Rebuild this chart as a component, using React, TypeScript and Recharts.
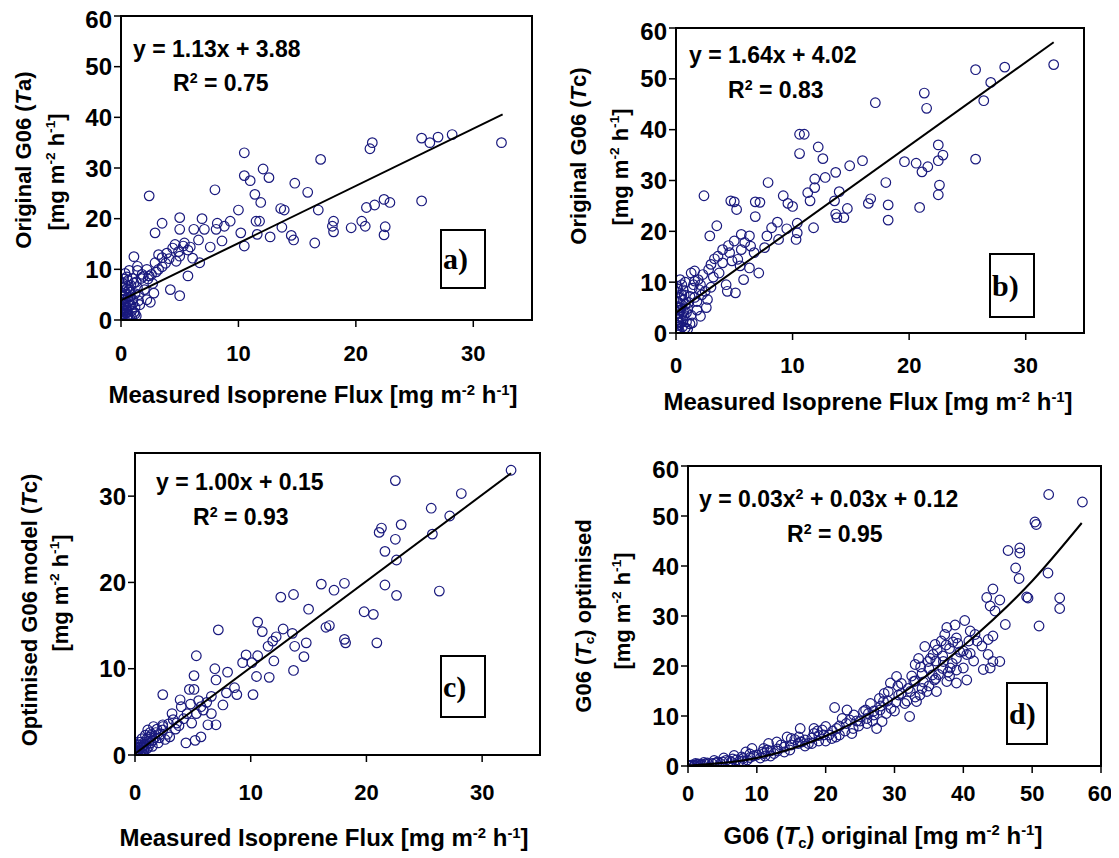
import React from 'react';
import { ScatterChart, Scatter, XAxis, YAxis } from 'recharts';

// panel a) measured flux vs original G06 (Ta)
const pointsA: [number, number][] = [
  [32.4, 35], [25.6, 35.9], [26.3, 35], [27, 36.1], [28.2, 36.6], [21.4, 35], [21.2, 33.8],
  [10.5, 33], [17, 31.7], [12.1, 29.8], [12.6, 28.1], [10.5, 28.5], [11, 27.5], [2.4, 24.5],
  [8, 25.7], [14.8, 27], [15.9, 25.2], [11.4, 24.8], [11.9, 23.2], [25.6, 23.5], [22.4, 23.8],
  [22.9, 23.2], [21.6, 22.7], [20.9, 22.2], [13.6, 22], [13.9, 21.7], [16.8, 21.7], [18.1, 19.5],
  [18, 18.5], [18.1, 17.4], [19.6, 18.2], [20.5, 19.5], [20.8, 18.5], [22.5, 18.4], [22.4, 16.8],
  [16.5, 15.2], [14.7, 15.8], [14.5, 16.7], [13.7, 18.3], [12.7, 16.4], [11.6, 16.9], [11.8, 19.5],
  [11.5, 19.5], [10, 21.7], [10.5, 14.6], [10.2, 17.2], [9.3, 19.5], [8.8, 18.5], [8.2, 19.1],
  [8.1, 17.9], [6.9, 20], [7.1, 17.9], [6.2, 17.9], [5, 20.2], [5, 17.9], [3.5, 19.1], [2.9, 17.2],
  [8.6, 15.6], [7.6, 14.4], [6.6, 15.8], [4.6, 14.9], [5.3, 14.6], [5.7, 13.8], [3.9, 13.2],
  [3.5, 12.3], [5, 12.6], [6.7, 11.3], [2.9, 11.3], [1.1, 12.5], [1.4, 10.6], [1.9, 8.6], [2.4, 8.7],
  [5.7, 8.7], [4.2, 6], [5, 4.8], [2.8, 5.3], [0.2, 8.1], [1.1, 7.3], [2.2, 4], [4.4, 14.2],
  [4.9, 13.5], [5.4, 15.2], [4.1, 12.1], [4.7, 11.6], [3.2, 12.9], [6.1, 12.2], [5.9, 14.4],
  [0, 0], [0.1, 0.5], [0.2, 1], [0.1, 2], [0.3, 3], [0.2, 4], [0.4, 5], [0.5, 2], [0.6, 1],
  [0.3, 0.2], [0.8, 3], [1, 4], [0.7, 6], [0.2, 6.5], [1.2, 2.5], [1.5, 5], [0.9, 0.5], [0.05, 3.5],
  [0.4, 7], [1.3, 7.5], [2, 6], [1.6, 3], [0.6, 4.5], [2.5, 3.5], [1.8, 9], [2.2, 10], [3, 9.5],
  [3.5, 10.5], [0.5, 8.5], [1.1, 1.5], [0.3, 2.5], [0.8, 5.5], [1.4, 9.8], [2.7, 7.2],
  [0.05, 0.3], [0.1, 1.2], [0.15, 2.2], [0.25, 3.2], [0.35, 4.2], [0.1, 5.2], [0.3, 5.8], [0.5, 6.2],
  [0.15, 7.2], [0.6, 7.8], [0.4, 3.8], [0.7, 2.8], [0.9, 1.8], [1, 3.2], [0.55, 0.8], [0.25, 1.8],
  [0.8, 4.6], [1.2, 5.2], [1.4, 6.4], [1, 8.2], [0.35, 9.2], [0.7, 9.8], [1.5, 3.8], [1.2, 1.2],
  [0.45, 2.6], [0.65, 3.6], [0.15, 4.6], [0.85, 6.8], [1.7, 8.2], [2.3, 8.1], [2.6, 9], [3.2, 10],
  [3.8, 11.2], [0.05, 1.6], [0.2, 0.4], [0.45, 1.4], [0.75, 0.3], [1.3, 0.8],
];
const fitA: [number, number][] = [[0, 3.88], [32.5, 40.6]];

// panel b) measured flux vs original G06 (Tc)
const pointsB: [number, number][] = [
  [32.4, 52.8], [28.2, 52.3], [25.7, 51.8], [27, 49.3], [26.4, 45.7], [21.3, 47.2], [21.5, 44.2],
  [17.1, 45.3], [10.6, 39.1], [11, 39.1], [12.2, 36.6], [12.6, 34.3], [10.6, 35.3], [22.5, 37],
  [22.9, 35], [22.5, 33.9], [25.7, 34.2], [16, 33.9], [14.9, 32.9], [19.6, 33.7], [20.6, 33.4],
  [21.6, 32.7], [21.1, 31.7], [13.7, 31.6], [12.8, 30.6], [11.9, 30.3], [11.9, 28.6], [11.3, 27.6],
  [11.5, 26], [14, 27.8], [13.6, 26], [18, 29.6], [22.6, 29.1], [22.5, 27.2], [16.7, 26.4],
  [16.5, 25.5], [18.2, 25.2], [18.2, 22.2], [20.9, 24.7], [14.7, 24.5], [13.7, 23.4], [14.4, 22.7],
  [13.8, 22.7], [7.9, 29.6], [9.2, 27], [9.6, 25.5], [10, 24.9], [6.8, 25.8], [7.2, 25.7],
  [6.8, 22.9], [4.7, 26], [5, 25.8], [5.2, 24.3], [2.4, 27], [3.5, 21.1], [2.9, 19.1], [8.2, 20.7],
  [8.7, 21.8], [9.5, 20.5], [10.4, 21.6], [10.4, 19.7], [10.3, 18.4], [11.8, 20.7], [7.8, 19.1],
  [8.8, 18.4], [7.6, 16.8], [6.3, 19.1], [5.6, 19.4], [5, 18.1], [4, 16.4], [3.6, 15.1], [4.6, 15.8],
  [5.6, 16.4], [6.4, 17.1], [6.7, 15.8], [5.3, 14.5], [4, 13.8], [3, 13.5], [3.7, 11.8], [6.3, 12.8],
  [7.1, 11.8], [5.8, 10.5], [4.3, 9.5], [5.1, 7.9], [4.4, 8.2], [2.3, 11.5], [1.3, 11.8], [1.6, 10.2],
  [0.1, 9.2], [2.1, 9.5], [2.7, 6.6], [2.1, 3.3], [1.4, 2], [4.5, 17.2], [5.9, 17.8], [4.8, 14.2],
  [3.3, 14.6], [5.5, 13.2],
  [0, 0], [0.1, 0.8], [0.2, 1.5], [0.1, 3], [0.3, 4.5], [0.2, 6], [0.5, 5.5], [0.6, 2.5], [0.8, 1],
  [0.3, 0.3], [0.9, 4], [1.1, 6], [0.7, 7.5], [0.2, 8], [1.3, 3.5], [1.6, 7], [1, 0.8], [0.05, 5],
  [0.5, 9.5], [1.4, 8.8], [2.2, 7.5], [1.8, 4.5], [0.6, 6.5], [2.6, 5], [1.9, 10.5], [0.4, 2.2],
  [0.05, 0.4], [0.1, 1.5], [0.15, 2.6], [0.25, 3.8], [0.35, 5], [0.1, 6.2], [0.3, 7], [0.5, 7.5],
  [0.15, 8.6], [0.6, 8.5], [0.4, 4.5], [0.7, 3.5], [0.9, 2.2], [1, 4.8], [0.55, 1.2], [0.25, 2.2],
  [0.8, 5.6], [1.2, 7.2], [1.5, 9.5], [0.8, 10], [0.35, 10.5], [1.2, 1.8], [0.45, 3.1], [0.65, 4.2],
  [1.8, 6.2], [2, 8.5], [2.5, 8.2], [3, 9], [3.2, 11], [2.8, 12.5], [1.6, 12.2], [0.2, 0.2],
];
const fitB: [number, number][] = [[0, 4.02], [32.4, 57.2]];

// panel c) measured flux vs optimised G06 (Tc)
const pointsC: [number, number][] = [
  [32.5, 33], [22.5, 31.8], [28.2, 30.3], [25.6, 28.6], [27.2, 27.7], [25.7, 25.6], [23, 26.7],
  [21.3, 26.3], [21.1, 25.8], [22.5, 25], [21.6, 23.6], [22.6, 22.6], [26.3, 19], [16.1, 19.8],
  [18.1, 19.9], [17.2, 19.1], [21.6, 19.7], [22.6, 18.5], [12.6, 18.3], [13.7, 18.6], [15, 16.9],
  [19.8, 16.6], [20.6, 16.3], [10.6, 15.4], [11, 14.3], [12.8, 14.6], [16.5, 14.8], [16.8, 15],
  [7.2, 14.5], [11.9, 13.2], [12.2, 13.7], [13.6, 14.1], [13.8, 12.6], [14.8, 13], [14.6, 11.4],
  [18.1, 13.4], [18.2, 13], [20.9, 13], [5.3, 11.5], [9.6, 11.6], [10.6, 11.5], [11.5, 12.6],
  [12, 10.9], [9.3, 10.7], [10.1, 10.7], [13.7, 9.8], [11.6, 9], [10.5, 9.1], [6.9, 10], [8, 9.6],
  [5.1, 9.2], [7, 8.7], [4.7, 7.6], [5.1, 7.6], [2.4, 7], [8.6, 7.8], [7.9, 7.2], [8.8, 7],
  [10.2, 7], [6.6, 6.8], [5.7, 5.6], [7.6, 5.8], [3.9, 6.4], [4, 5.6], [3.2, 4.8], [4.5, 4.8],
  [5.3, 4.8], [6.6, 4.8], [7, 3.5], [6.3, 3.5], [4.9, 3.7], [3.6, 3.7], [2.4, 3.5], [1.6, 3.3],
  [5.7, 2.1], [5.2, 1.7], [4.4, 1.4], [3, 2.1], [2.4, 2.9], [4.2, 4.2], [5.9, 5.2], [6.2, 6.1],
  [3.5, 3], [2.8, 2.4], [4.8, 5.9], [5.5, 6.3],
  [0, 0], [0.1, 0.2], [0.2, 0.5], [0.4, 0.3], [0.3, 0.9], [0.6, 0.6], [0.8, 1.2], [0.5, 1.5],
  [1, 0.7], [1.2, 1.6], [0.2, 1.2], [1.5, 1], [1.7, 2], [0.9, 2.3], [1.3, 2.6], [2, 1.4],
  [2.2, 2.4], [0.7, 0.1], [1.9, 3], [2.6, 1.8],
  [0.05, 0.1], [0.15, 0.3], [0.25, 0.1], [0.35, 0.6], [0.45, 0.9], [0.55, 0.3], [0.65, 1],
  [0.75, 0.5], [0.85, 1.5], [0.95, 1.1], [1.05, 1.9], [1.15, 0.9], [1.25, 2.1], [1.35, 1.4],
  [1.45, 2.4], [1.55, 1.7], [0.1, 0.8], [0.3, 1.5], [0.2, 0.15], [0.4, 1.2], [1.8, 2.6], [2.1, 2],
  [2.4, 3.3], [2.9, 3.6], [3.3, 4.1], [3.8, 3.4], [1.1, 2.9], [0.6, 1.9],
];
const fitC: [number, number][] = [[0, 0.15], [32.5, 32.65]];

// panel d) original vs optimised G06 (Tc)
const pointsD: [number, number][] = [
  [52.4, 54.3], [57.3, 52.8], [50.4, 48.8], [50.6, 48.3], [46.5, 43.1], [48.2, 43.6], [48.2, 42.6],
  [47.6, 39.6], [48.1, 37.5], [52.3, 38.6], [49.2, 33.8], [49.4, 33.6], [54, 33.6], [54, 31.5],
  [51, 28], [44.3, 35.4], [43.4, 33.7], [45.3, 33.2], [43.9, 32], [44.6, 31], [46.1, 28.3],
  [44.3, 26], [43.6, 25.3], [40.2, 29.1], [38.8, 28.2], [37.6, 27.7], [37.3, 26.3], [39, 25.6],
  [41.7, 26.3], [42.7, 24], [43.6, 22.3], [45.3, 20.9], [44.3, 20.9], [42.9, 19.3], [43.9, 19.6],
  [40.5, 22.3], [40, 19.6], [40.5, 17.2], [39, 16.6], [35.9, 24.3], [34.4, 23.9], [35.6, 22.3],
  [34.9, 20.9], [37.1, 20.9], [38.1, 19.6], [33, 20.3], [36.4, 18.3], [37.6, 16.9], [36.1, 14.9],
  [34.7, 14.9], [32.8, 16.9], [32.3, 14.9], [33.7, 14.2], [33.2, 12.9], [32.2, 9.9], [30.3, 17.9],
  [29.4, 16.6], [29.1, 14.9], [30.6, 14.2], [28.4, 12.9], [27.9, 11.2], [28.2, 8.9], [27, 10.2],
  [25.5, 10.9], [24.1, 10.2], [26, 8.5], [27.4, 7.5], [21.3, 11.7], [23.1, 11.2], [22.4, 9.5],
  [23.8, 6.5], [21.6, 7.5], [20, 7.9], [18.3, 7.5], [16.3, 7.5], [18.3, 6.5], [19.7, 6.2],
  [20.9, 5.5], [16.1, 5.8], [16.3, 4.8], [14.4, 5.8], [12.9, 4.8], [11.7, 4.5], [11, 3.5],
  [9.3, 3.5], [8.4, 2.8], [6.7, 2.1], [5.2, 1.6], [3.8, 1.1], [2.3, 0.7], [1.1, 0.5], [0.1, 0.1],
  [5, 0.8], [6, 1], [7, 1.2], [8, 1.5], [9, 1.7], [10, 2.2], [11, 2.5], [12, 3], [13, 3.4],
  [14, 3.8], [15, 4.2], [16, 4.5], [17, 5.2], [18, 5.6], [19, 6.1], [12, 2], [14, 2.8], [17, 4],
  [20, 5], [22, 6.2], [24, 7.5], [25, 9], [26, 9.5], [27, 11], [28, 12], [29, 13], [30, 11],
  [31, 14.5], [32, 15.5], [33, 17], [34, 18.5], [35, 19.5], [36, 21], [37, 22], [38, 23.5],
  [39, 21.5], [40, 23], [41, 22.5], [42, 25], [36, 17.5], [35, 16], [34, 15.5], [38, 18],
  [39, 19.2], [30.5, 16], [28.5, 14.5], [26.5, 12.5], [23, 8.5], [21, 7], [19, 5], [16.5, 4.8],
  [3, 0.4], [4, 0.6], [2, 0.3], [1, 0.2], [0.5, 0.1], [0.2, 0], [1.5, 0.4], [31.5, 12.5],
  [33.5, 21.5], [36.8, 25], [38.5, 24.8], [41, 27], [39.5, 22.8], [37, 19.5], [35.5, 18.2],
  [0.3, 0.1], [0.6, 0.2], [0.9, 0.1], [1.3, 0.3], [1.8, 0.2], [2.5, 0.4], [2.8, 0.6], [3.5, 0.5],
  [4.3, 0.8], [4.7, 0.5], [5.5, 1.1], [6.3, 0.8], [6.5, 1.4], [7.5, 1], [7.8, 1.8], [8.6, 1.2],
  [9.5, 2], [10.5, 1.6], [10.8, 2.8], [11.5, 3.2], [12.5, 2.5], [13.5, 4.2], [14.8, 3.2],
  [15.5, 5.3], [17.5, 4.5], [18.8, 7], [20.5, 6.2], [21.5, 5.8], [22.8, 7], [23.5, 9.2],
  [24.8, 8], [25.8, 11.2], [26.8, 9], [27.8, 13.5], [29.5, 11.5], [30.2, 12.8], [31, 16.5],
  [32.5, 18], [33.8, 19.8], [35.2, 21.5], [36.2, 23.2], [37.5, 24.2], [38.4, 20.5], [39.2, 24.5],
  [40.8, 25], [41.5, 21], [37.8, 18.8], [35.8, 17.2], [34.2, 16.8], [33, 13.8], [31.8, 13],
  [28.8, 10.5], [26.2, 10.5], [24.5, 9], [22, 8], [19.5, 7.2], [18, 4.5], [15, 5.5], [13, 3],
  [11.2, 2], [9, 2.4], [8, 0.9],
];
const fitD: [number, number][] = [[0, 0.1], [10, 1.6], [20, 6], [30, 13.5], [40, 24], [50, 37], [57.2, 48.6]];

const ticks35 = [0, 10, 20, 30];
const ticks60 = [0, 10, 20, 30, 40, 50, 60];

const NAVY = '#1a1a7e';
const FONT = "'Liberation Sans', Arial, sans-serif";
const toXY = (arr: [number, number][]) => arr.map(([x, y]) => ({ x, y }));

const Ring = (p: any) => (
  <circle cx={p.cx} cy={p.cy} r={4.8} fill="none" stroke={NAVY} strokeWidth={1.2} />
);

type PanelProps = {
  left: number; top: number; w: number; h: number;
  xMax: number; yMax: number; xTicks: number[]; yTicks: number[];
  points: [number, number][]; fit: [number, number][]; smooth?: boolean; xTickGap: number;
};

function Panel({ left, top, w, h, xMax, yMax, xTicks, yTicks, points, fit, smooth, xTickGap }: PanelProps) {
  const YW = 70;
  return (
    <div style={{ position: 'absolute', left: left - YW, top: top - 10 }}>
      <ScatterChart width={YW + w + 10} height={h + 70} margin={{ top: 10, right: 10, left: 0, bottom: 0 }}>
        <XAxis type="number" dataKey="x" domain={[0, xMax]} ticks={xTicks} height={60}
          axisLine={false} tickLine={{ stroke: '#000', strokeWidth: 1.5 }} tickSize={7} tickMargin={xTickGap}
          tick={{ fontSize: 22, fontWeight: 'bold', fill: '#000', fontFamily: FONT }} allowDataOverflow />
        <YAxis type="number" dataKey="y" domain={[0, yMax]} ticks={yTicks} width={YW}
          axisLine={false} tickLine={{ stroke: '#000', strokeWidth: 1.5 }} tickSize={7} tickMargin={2}
          tick={{ fontSize: 24, fontWeight: 'bold', fill: '#000', fontFamily: FONT }} allowDataOverflow />
        <Scatter data={toXY(points)} shape={Ring} isAnimationActive={false} />
        <Scatter data={toXY(fit)} shape={() => <g />} line={{ stroke: '#000', strokeWidth: 2 }}
          lineJointType={smooth ? 'monotoneX' : 'linear'} isAnimationActive={false} />
      </ScatterChart>
      <div style={{ position: 'absolute', left: YW - 1, top: 9, width: w + 2, height: h + 2,
        boxSizing: 'border-box', border: '2px solid #000', pointerEvents: 'none' }} />
    </div>
  );
}

const sup = { fontSize: '0.62em', verticalAlign: '0.6em' } as React.CSSProperties;
const sub = { fontSize: '0.62em', verticalAlign: '-0.25em' } as React.CSSProperties;
const Unit = () => (<>[mg m<span style={sup}>-2</span> h<span style={sup}>-1</span>]</>);

function Text({ x, y, size, rotate, children }: any) {
  return (
    <div style={{ position: 'absolute', left: x, top: y, fontSize: size, fontWeight: 'bold', whiteSpace: 'nowrap',
      lineHeight: 1, transform: `translate(-50%, -50%)${rotate ? ' rotate(-90deg)' : ''}` }}>{children}</div>
  );
}

function Eq({ x, y, children }: any) {
  return (
    <div style={{ position: 'absolute', left: x, top: y, fontSize: 23, fontWeight: 'bold', whiteSpace: 'nowrap',
      lineHeight: 1, transform: 'translateY(-50%)' }}>{children}</div>
  );
}

function Tag({ x, y, w, h, label }: any) {
  return (
    <div style={{ position: 'absolute', left: x, top: y, width: w, height: h, boxSizing: 'border-box',
      border: '2px solid #000', background: '#fff', display: 'flex', alignItems: 'center', paddingLeft: 1,
      fontFamily: "'Liberation Serif', 'Times New Roman', serif", fontWeight: 'bold', fontSize: 30 }}>{label}</div>
  );
}

export default function App() {
  return (
    <div style={{ position: 'absolute', left: 0, top: 0, width: 1119, height: 858, background: '#fff',
      fontFamily: FONT, color: '#000', overflow: 'hidden' }}>
      <Panel left={121} top={16} w={411} h={304} xMax={35} yMax={60} xTicks={ticks35} yTicks={ticks60}
        points={pointsA} fit={fitA} xTickGap={18} />
      <Panel left={676} top={28} w={408} h={305} xMax={35} yMax={60} xTicks={ticks35} yTicks={ticks60}
        points={pointsB} fit={fitB} xTickGap={17} />
      <Panel left={135} top={453} w={405} h={302} xMax={35} yMax={35} xTicks={ticks35} yTicks={ticks35}
        points={pointsC} fit={fitC} xTickGap={22} />
      <Panel left={688} top={466} w={413} h={300} xMax={60} yMax={60} xTicks={ticks60} yTicks={ticks60}
        points={pointsD} fit={fitD} smooth xTickGap={12} />

      <Tag x={440} y={229} w={46} h={60} label="a)" />
      <Tag x={989} y={253} w={46} h={65} label="b)" />
      <Tag x={440} y={655} w={46} h={63} label="c)" />
      <Tag x={1006} y={682} w={42} h={63} label="d)" />

      <Eq x={133} y={49}>y = 1.13x + 3.88</Eq>
      <Eq x={173} y={83}>R<span style={sup}>2</span> = 0.75</Eq>
      <Eq x={689} y={55}>y = 1.64x + 4.02</Eq>
      <Eq x={728} y={90}>R<span style={sup}>2</span> = 0.83</Eq>
      <Eq x={156} y={482}>y = 1.00x + 0.15</Eq>
      <Eq x={193} y={517}>R<span style={sup}>2</span> = 0.93</Eq>
      <Eq x={699} y={499}>y = 0.03x<span style={sup}>2</span> + 0.03x + 0.12</Eq>
      <Eq x={787} y={534}>R<span style={sup}>2</span> = 0.95</Eq>

      <Text x={24} y={160} size={22} rotate>Original G06 (<i>T</i>a)</Text>
      <Text x={56} y={172} size={22} rotate><Unit /></Text>
      <Text x={579} y={156} size={22} rotate>Original G06 (<i>T</i>c)</Text>
      <Text x={620} y={167} size={22} rotate><Unit /></Text>
      <Text x={30} y={610} size={22} rotate>Optimised G06 model (<i>T</i>c)</Text>
      <Text x={60} y={593} size={22} rotate><Unit /></Text>
      <Text x={585} y={616} size={22} rotate>G06 (<i>T</i><span style={sub}>c</span>) optimised</Text>
      <Text x={622} y={611} size={22} rotate><Unit /></Text>

      <Text x={313} y={395} size={24}>Measured Isoprene Flux <Unit /></Text>
      <Text x={868} y={402} size={24}>Measured Isoprene Flux <Unit /></Text>
      <Text x={324} y={838} size={24}>Measured Isoprene Flux <Unit /></Text>
      <Text x={883} y={837} size={24}>G06 (<i>T</i><span style={sub}>c</span>) original <Unit /></Text>
    </div>
  );
}
